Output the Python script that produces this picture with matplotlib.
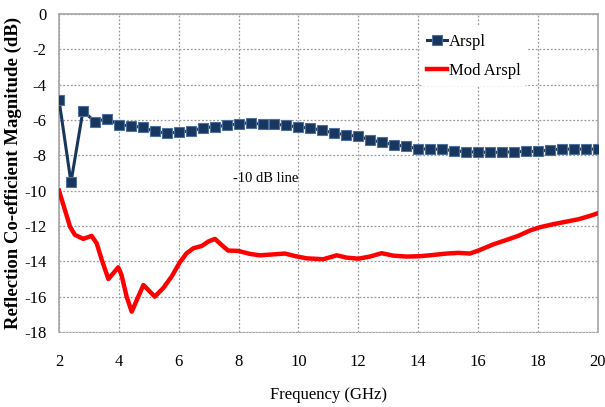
import matplotlib.pyplot as plt

# Arspl (markers every 0.4 GHz)
freq_arspl = [2.0, 2.4, 2.8, 3.2, 3.6, 4.0, 4.4, 4.8, 5.2, 5.6, 6.0, 6.4, 6.8, 7.2,
              7.6, 8.0, 8.4, 8.8, 9.2, 9.6, 10.0, 10.4, 10.8, 11.2, 11.6, 12.0,
              12.4, 12.8, 13.2, 13.6, 14.0, 14.4, 14.8, 15.2, 15.6, 16.0, 16.4,
              16.8, 17.2, 17.6, 18.0, 18.4, 18.8, 19.2, 19.6, 20.0]
s11_arspl = [-4.85, -9.53, -5.48, -6.10, -5.93, -6.27, -6.33, -6.42, -6.65, -6.74,
             -6.69, -6.61, -6.46, -6.37, -6.31, -6.21, -6.16, -6.25, -6.23, -6.31,
             -6.40, -6.46, -6.59, -6.74, -6.84, -6.93, -7.12, -7.27, -7.40, -7.50,
             -7.63, -7.65, -7.66, -7.74, -7.80, -7.82, -7.83, -7.83, -7.80, -7.78,
             -7.78, -7.68, -7.65, -7.65, -7.65, -7.65]

# Mod Arspl
freq_mod = [2.0, 2.2, 2.37, 2.53, 2.81, 3.09, 3.26, 3.43, 3.65, 3.81, 3.98, 4.09,
            4.26, 4.43, 4.6, 4.82, 5.04, 5.2, 5.48, 5.76, 6.04, 6.26, 6.49, 6.77,
            6.99, 7.21, 7.43, 7.65, 7.99, 8.38, 8.71, 9.05, 9.55, 9.88, 10.27,
            10.6, 10.83, 11.28, 11.61, 12.0, 12.39, 12.78, 13.17, 13.61, 14.06,
            14.5, 14.95, 15.34, 15.73, 16.06, 16.51, 16.95, 17.34, 17.73, 18.07,
            18.51, 18.96, 19.35, 19.74, 20.0]
s11_mod = [-10.0, -11.1, -12.04, -12.5, -12.73, -12.56, -12.98, -13.92, -15.0,
           -14.68, -14.34, -14.77, -16.0, -16.85, -16.19, -15.34, -15.72, -16.0,
           -15.52, -14.87, -14.05, -13.55, -13.26, -13.13, -12.88, -12.73, -13.07,
           -13.39, -13.41, -13.58, -13.66, -13.62, -13.56, -13.7, -13.83, -13.86,
           -13.88, -13.66, -13.79, -13.85, -13.73, -13.54, -13.68, -13.73, -13.71,
           -13.64, -13.56, -13.52, -13.56, -13.36, -13.04, -12.79, -12.56, -12.26,
           -12.07, -11.9, -11.75, -11.62, -11.43, -11.28]

xticks = [2, 4, 6, 8, 10, 12, 14, 16, 18, 20]
yticks = [0, -2, -4, -6, -8, -10, -12, -14, -16, -18]

plt.rcParams['font.family'] = ['Liberation Serif', 'DejaVu Serif']
plt.rcParams['axes.unicode_minus'] = False

fig = plt.figure(figsize=(6.05, 4.07), dpi=100)
ax = fig.add_axes([0.0975, 0.1843, 0.8905, 0.7813])

ax.plot(freq_arspl, s11_arspl, color='#17375E', lw=2.2, marker='s', ms=6.5,
        mfc='#17375E', mec='#4F6F9F', mew=0.8, label='Arspl', zorder=3)
ax.plot(freq_mod, s11_mod, color='#FF0000', lw=3.2, label='Mod Arspl', zorder=3)

ax.set_xlim(2, 20)
ax.set_ylim(-18, 0)
ax.set_xticks(xticks)
ax.set_yticks(yticks)
ax.tick_params(axis='both', length=0, labelsize=12)
ax.tick_params(axis='x', pad=16)
ax.tick_params(axis='y', pad=9)
ax.grid(True, color='#9a9a9a', linestyle=(0, (1.5, 1.5)), lw=0.9)

for side in ['top', 'right', 'left']:
    ax.spines[side].set_color('#a6a6a6')
    ax.spines[side].set_linewidth(1.2)
ax.spines['bottom'].set_color('#a6a6a6')
ax.spines['bottom'].set_linestyle((0, (1.5, 1.5)))

ax.set_xlabel('Frequency (GHz)', fontsize=12, labelpad=12)
ax.set_ylabel('Reflection Co-efficient Magnitude (dB)', fontsize=13.5,
              fontweight='bold')
ax.yaxis.set_label_coords(-0.068, 0.5)

ax.text(10.0, -9.3, '-10 dB line', fontsize=10.5, ha='right', va='center')

leg = ax.legend(loc='upper left', bbox_to_anchor=(0.655, 0.985), frameon=True,
                fontsize=12, handlelength=1.2, handletextpad=0.1,
                borderpad=0.4, labelspacing=0.8)
leg.get_frame().set_edgecolor('none')
leg.get_frame().set_facecolor('white')
leg.get_frame().set_alpha(1)

fig.savefig('out.png', dpi=100)
